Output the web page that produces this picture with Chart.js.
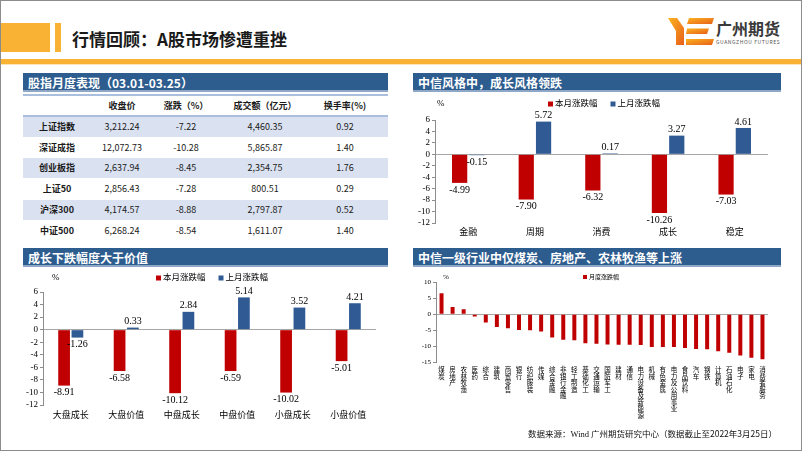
<!DOCTYPE html>
<html>
<head>
<meta charset="utf-8">
<script src="https://cdn.jsdelivr.net/npm/chart.js@4.4.1/dist/chart.umd.min.js"></script>
<style>
  body { margin: 0; background: #fff; }
  #slide { position: relative; width: 802px; height: 451px; overflow: hidden; font-family: "Noto Sans CJK SC", sans-serif; background: #fff; }
  #frame { position: absolute; left: 0; top: 0; width: 802px; height: 451px; box-sizing: border-box; border: 1px solid #8c8c8c; pointer-events: none; }
  .head { position: absolute; height: 19px; background: #2d5c8e; color: #fff; font-weight: bold; font-size: 12px; line-height: 19px; padding-left: 5px; box-sizing: border-box; border-bottom: 2px solid #8fa8c8; white-space: nowrap; }
  .cell { position: absolute; width: 80px; margin-left: -40px; text-align: center; font-size: 9px; color: #1a1a1a; line-height: 20px; height: 20px; white-space: nowrap; }
  .b { font-weight: bold; }
  .shade { position: absolute; left: 23px; width: 365px; background: #dae2f1; }
  canvas { position: absolute; }
</style>
</head>
<body>
<div id="slide">
  <div style="position:absolute;left:0;top:23px;width:50px;height:29px;background:#f9b234"></div>
  <div style="position:absolute;left:55px;top:23px;width:6px;height:29px;background:#f9b234"></div>
  <div style="position:absolute;left:72px;top:27px;font-size:17px;font-weight:bold;color:#1a1a1a;line-height:24px;white-space:nowrap">行情回顾：A股市场惨遭重挫</div>
  <div style="position:absolute;left:0;top:59px;width:802px;height:5px;background:#f9b234"></div>
  <div style="position:absolute;left:0;top:64px;width:802px;height:1px;background:#fde3b5"></div>

  <svg style="position:absolute;left:668px;top:18px" width="46" height="27" viewBox="0 0 46 27">
    <defs>
      <linearGradient id="lg" x1="0" y1="0" x2="1" y2="1">
        <stop offset="0" stop-color="#fbb21f"/>
        <stop offset="1" stop-color="#e8601a"/>
      </linearGradient>
    </defs>
    <polygon fill="url(#lg)" points="0,0 9,0 16,10 16,27 8,27 8,13"/>
    <polygon fill="url(#lg)" points="21,0 46,0 44,6 19,6"/>
    <polygon fill="url(#lg)" points="19,10.5 41,10.5 39,16 18,16"/>
    <polygon fill="url(#lg)" points="18,21 46,21 44,27 18,27"/>
  </svg>
  <div style="position:absolute;left:716px;top:18px;font-size:16px;font-weight:bold;color:#3a3a3a;line-height:20px;white-space:nowrap">广州期货</div>
  <div style="position:absolute;left:716px;top:38px;font-size:5px;color:#555;letter-spacing:0.6px;line-height:7px;white-space:nowrap">GUANGZHOU FUTURES</div>

  <div class="head" style="left:23px;top:73px;width:365px">股指月度表现（03.01-03.25）</div>
  <div class="head" style="left:413px;top:73px;width:368px">中信风格中，成长风格领跌</div>
  <div class="head" style="left:23px;top:248px;width:365px">成长下跌幅度大于价值</div>
  <div class="head" style="left:413px;top:248px;width:368px">中信一级行业中仅煤炭、房地产、农林牧渔等上涨</div>

  <div id="table"></div>

  <canvas id="styleChart" width="367" height="148" style="left:413px;top:95px"></canvas>
  <canvas id="sizeChart" width="366" height="160" style="left:22px;top:268px"></canvas>
  <canvas id="industryChart" width="367" height="160" style="left:413px;top:268px"></canvas>

  <div style="position:absolute;left:528px;top:426px;font-size:8.5px;color:#111;line-height:14px;white-space:nowrap">数据来源：<span style="font-family:'Liberation Serif'">Wind</span> 广州期货研究中心（数据截止至2022年3月25日）</div>
  <div id="frame"></div>
</div>

<script>
// 股指月度表现
const indexNames = ["上证指数", "深证成指", "创业板指", "上证50", "沪深300", "中证500"];
const indexClose = [3212.24, 12072.73, 2637.94, 2856.43, 4174.57, 6268.24];
const indexChange = [-7.22, -10.28, -8.45, -7.28, -8.88, -8.54];
const indexTurnover = [4460.35, 5865.87, 2354.75, 800.51, 2797.87, 1611.07];
const indexTurnRate = [0.92, 1.40, 1.76, 0.29, 0.52, 1.40];
const tableHeads = ["", "收盘价", "涨跌（%）", "成交额（亿元）", "换手率(%)"];

// 中信风格
const styleCats = ["金融", "周期", "消费", "成长", "稳定"];
const styleThisMonth = [-4.99, -7.90, -6.32, -10.26, -7.03];
const styleLastMonth = [-0.15, 5.72, 0.17, 3.27, 4.61];

// 大小盘风格
const sizeCats = ["大盘成长", "大盘价值", "中盘成长", "中盘价值", "小盘成长", "小盘价值"];
const sizeThisMonth = [-8.91, -6.58, -10.12, -6.59, -10.02, -5.01];
const sizeLastMonth = [-1.26, 0.33, 2.84, 5.14, 3.52, 4.21];

// 中信一级行业
const industryCats = ["煤炭", "房地产", "农林牧渔", "医药", "综合", "建筑", "商贸零售", "银行", "纺织服装", "传媒",
  "综合金融", "非银行金融", "轻工制造", "基础化工", "交通运输", "国防军工", "建材", "通信", "电力设备及新能源", "机械",
  "有色金属", "电力及公用事业", "食品饮料", "汽车", "钢铁", "计算机", "石油石化", "电子", "家电", "消费者服务"];
const industryChange = [6.5, 2.2, 1.5, -0.7, -2.6, -4.0, -4.4, -4.9, -5.0, -5.4,
  -7.2, -7.9, -8.1, -9.0, -9.2, -9.4, -9.5, -9.5, -9.6, -10.2,
  -10.2, -10.2, -10.5, -10.8, -10.9, -11.5, -12.0, -12.8, -13.5, -14.0];

const RED = "#c00000";
const BLUE = "#2f5a93";
const SERIF = "'Liberation Serif', 'Noto Sans CJK SC', serif";

// table
const fmt = v => v.toLocaleString("en-US", { minimumFractionDigits: 2, maximumFractionDigits: 2 });
const colX = [57, 122, 186, 265, 345];
const tbl = document.getElementById("table");
let html = '<div style="position:absolute;left:23px;top:94px;width:365px;height:2px;background:#a9bfdd"></div>';
html += '<div style="position:absolute;left:23px;top:115px;width:365px;height:2px;background:#a9bfdd"></div>';
tableHeads.forEach((h, c) => {
  html += `<div class="cell b" style="left:${colX[c]}px;top:96px">${h}</div>`;
});
indexNames.forEach((name, r) => {
  const top = 117 + r * 20.7;
  if (r % 2 === 0) html += `<div class="shade" style="top:${top}px;height:20px"></div>`;
  const vals = [name, fmt(indexClose[r]), fmt(indexChange[r]), fmt(indexTurnover[r]), fmt(indexTurnRate[r])];
  vals.forEach((v, c) => {
    html += `<div class="cell${c === 0 ? " b" : ""}" style="left:${colX[c]}px;top:${top}px">${v}</div>`;
  });
});
tbl.innerHTML = html;

// legend, unit and value labels
const decor = {
  id: "decor",
  afterDatasetsDraw(chart, args, o) {
    const ctx = chart.ctx;
    ctx.save();
    if (o.values) {
      ctx.font = o.valueFont;
      ctx.fillStyle = "#000";
      ctx.textAlign = "center";
      chart.data.datasets.forEach((ds, i) => {
        chart.getDatasetMeta(i).data.forEach((bar, j) => {
          const v = ds.data[j];
          ctx.textBaseline = v >= 0 ? "bottom" : "top";
          ctx.fillText(v.toFixed(2), bar.x, v >= 0 ? bar.y - 1 : bar.y + 2);
        });
      });
    }
    ctx.textAlign = "left";
    ctx.textBaseline = "middle";
    ctx.fillStyle = "#000";
    ctx.font = o.unitFont;
    ctx.fillText("%", o.unitX, o.legendY);
    ctx.font = o.legendFont;
    let x = o.legendX;
    chart.data.datasets.forEach(ds => {
      ctx.fillStyle = ds.backgroundColor;
      ctx.fillRect(x, o.legendY - o.box / 2, o.box, o.box);
      x += o.box + 2;
      ctx.fillStyle = "#000";
      ctx.fillText(ds.label, x, o.legendY);
      x += ctx.measureText(ds.label).width + o.gap;
    });
    ctx.restore();
  }
};

function axes(min, max, step, yWidth, xHeight, tickSize, catSize, catPad, catCallback) {
  return {
    x: {
      grid: { display: false, drawTicks: false },
      border: { display: false },
      ticks: {
        font: { family: SERIF, size: catSize, lineHeight: 1.0 },
        color: "#000", padding: catPad, maxRotation: 0, minRotation: 0, autoSkip: false,
        callback: catCallback
      },
      afterFit(s) { s.height = xHeight; }
    },
    y: {
      min: min, max: max,
      ticks: { stepSize: step, autoSkip: false, font: { family: SERIF, size: tickSize, lineHeight: 1.0 }, color: "#000", padding: 2 },
      grid: {
        color: c => c.tick.value === 0 ? "#a6a6a6" : "rgba(0,0,0,0)",
        tickColor: "#8c8c8c", tickLength: 3, drawTicks: true
      },
      border: { display: true, color: "#8c8c8c" },
      afterFit(s) { s.width = yWidth; }
    }
  };
}

function pairChart(id, cats, thisMonth, lastMonth, cfg) {
  new Chart(document.getElementById(id), {
    type: "bar",
    data: {
      labels: cats,
      datasets: [
        { label: "本月涨跌幅", data: thisMonth, backgroundColor: RED, categoryPercentage: cfg.cat, barPercentage: 0.88 },
        { label: "上月涨跌幅", data: lastMonth, backgroundColor: BLUE, categoryPercentage: cfg.cat, barPercentage: 0.88 }
      ]
    },
    options: {
      responsive: false,
      animation: false,
      layout: { padding: { top: cfg.top, right: 12, left: 0, bottom: 0 } },
      plugins: {
        legend: { display: false },
        tooltip: { enabled: false },
        decor: {
          values: true, valueFont: "10px " + SERIF,
          legendX: cfg.legendX, legendY: cfg.legendY, box: 5, gap: 13,
          legendFont: "8.5px " + SERIF, unitX: cfg.unitX, unitFont: "9px " + SERIF
        }
      },
      scales: axes(-12, 6, 2, cfg.yWidth, cfg.xHeight, 9, 9, cfg.catPad, (v, i) => cats[i])
    },
    plugins: [decor]
  });
}

pairChart("styleChart", styleCats, styleThisMonth, styleLastMonth,
  { cat: 0.52, top: 25, yWidth: 22, xHeight: 20, catPad: 5, legendX: 135, legendY: 9, unitX: 24 });

pairChart("sizeChart", sizeCats, sizeThisMonth, sizeLastMonth,
  { cat: 0.48, top: 24, yWidth: 21, xHeight: 23, catPad: 6, legendX: 134, legendY: 10, unitX: 30 });

new Chart(document.getElementById("industryChart"), {
  type: "bar",
  data: {
    labels: industryCats,
    datasets: [
      { label: "月度涨跌幅", data: industryChange, backgroundColor: RED, categoryPercentage: 1.0, barPercentage: 0.36 }
    ]
  },
  options: {
    responsive: false,
    animation: false,
    layout: { padding: { top: 14, right: 12, left: 0, bottom: 0 } },
    plugins: {
      legend: { display: false },
      tooltip: { enabled: false },
      decor: {
        values: false, legendX: 170, legendY: 9, box: 4, gap: 10,
        legendFont: "6px " + SERIF, unitX: 30, unitFont: "7px " + SERIF
      }
    },
    scales: axes(-15, 10, 5, 23, 65.5, 7, 6.5, 5, (v, i) => industryCats[i].split(""))
  },
  plugins: [decor]
});
</script>
</body>
</html>
